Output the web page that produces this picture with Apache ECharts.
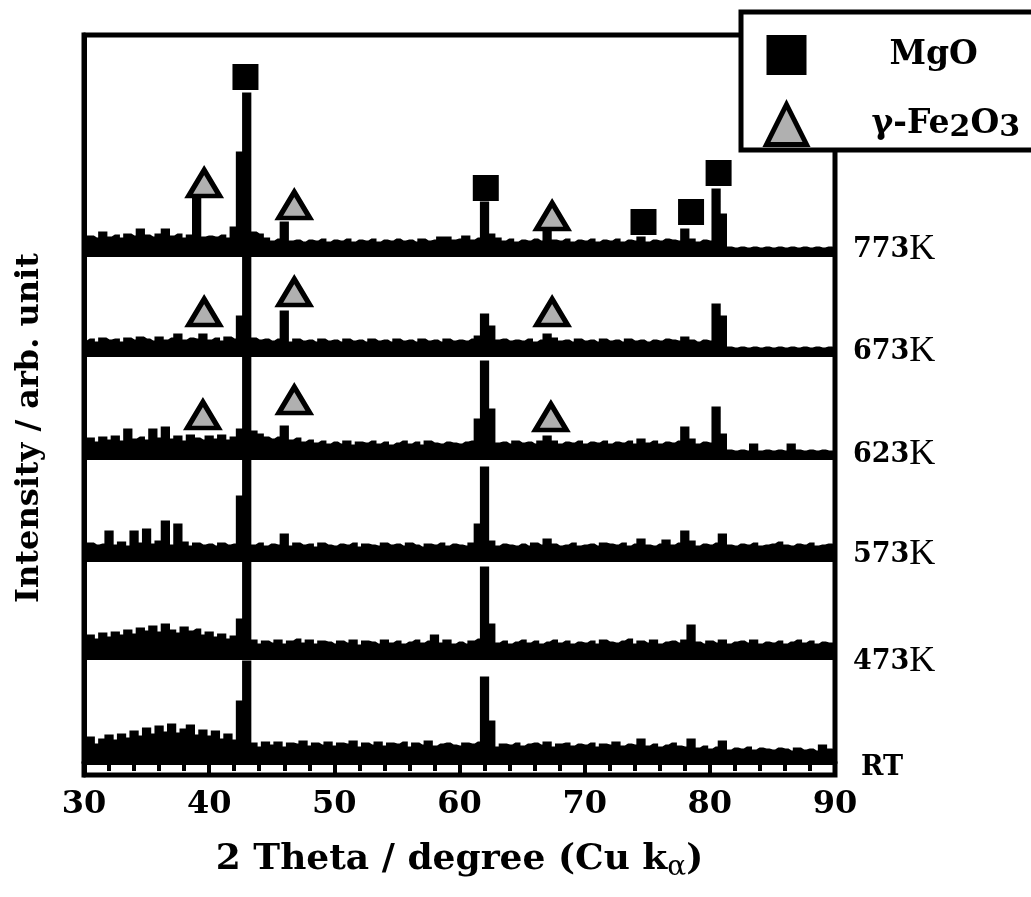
<!DOCTYPE html>
<html>
<head>
<meta charset="utf-8">
<script src="https://cdn.jsdelivr.net/npm/echarts@6/dist/echarts.min.js"></script>
<style>
  html, body { margin: 0; padding: 0; background: #fff; }
  #chart { width: 1031px; height: 897px; }
</style>
</head>
<body>
<div id="chart"></div>
<script>
// XRD patterns of the MgO / iron-oxide samples after annealing.
// Each pattern is sampled on a 2θ grid from 30.0° to 90.0° in 0.5° steps (121 points),
// intensities in arbitrary units above the pattern's own baseline.
const thetaStart = 30;
const thetaStep = 0.5;

const sampleNames = ['RT', '473K', '573K', '623K', '673K', '773K'];
// vertical stacking offset of each pattern (arb. unit)
const sampleOffsets = [0, 102, 200, 302, 405, 505];

const intensityRT = [
  20, 24, 17, 22, 26, 21, 27, 23, 30, 25,
  33, 27, 35, 29, 37, 28, 32, 36, 26, 31,
  25, 30, 22, 27, 21, 60, 100, 18, 14, 19,
  16, 19, 14, 18, 17, 20, 15, 18, 16, 19,
  15, 18, 17, 20, 14, 18, 16, 19, 15, 18,
  17, 19, 14, 18, 16, 20, 15, 17, 18, 16,
  15, 18, 17, 19, 84, 40, 14, 17, 16, 18,
  15, 17, 18, 16, 19, 14, 17, 18, 15, 17,
  16, 18, 14, 17, 16, 19, 15, 17, 16, 22,
  15, 17, 14, 16, 18, 15, 14, 22, 13, 15,
  12, 14, 20, 11, 13, 12, 14, 11, 13, 12,
  11, 13, 12, 10, 13, 11, 12, 10, 16, 12,
  11
];

const intensity473K = [
  19, 24, 20, 26, 22, 27, 24, 29, 25, 31,
  28, 33, 27, 35, 29, 26, 32, 28, 30, 24,
  27, 22, 25, 20, 23, 40, 105, 19, 15, 18,
  16, 19, 15, 18, 20, 16, 19, 15, 18, 17,
  15, 18, 16, 19, 14, 18, 17, 15, 19, 16,
  18, 15, 17, 19, 16, 18, 24, 16, 19, 15,
  17, 15, 18, 20, 92, 35, 16, 18, 15, 17,
  19, 16, 18, 15, 17, 19, 16, 18, 15, 17,
  16, 18, 15, 19, 17, 16, 18, 20, 15, 18,
  16, 19, 15, 17, 18, 16, 19, 34, 17, 15,
  18, 16, 19, 15, 17, 18, 16, 19, 15, 17,
  16, 18, 15, 17, 19, 16, 18, 15, 17, 16,
  16
];

const intensity573K = [
  15, 18, 16, 17, 30, 16, 19, 15, 30, 18,
  32, 17, 20, 40, 16, 37, 19, 15, 18, 16,
  17, 15, 18, 16, 17, 65, 105, 16, 18, 15,
  17, 16, 27, 15, 18, 16, 17, 14, 18, 16,
  15, 17, 16, 18, 14, 17, 16, 15, 18, 16,
  17, 15, 18, 16, 14, 17, 16, 18, 15, 17,
  16, 15, 18, 37, 94, 20, 15, 17, 16, 15,
  17, 15, 18, 16, 22, 17, 15, 16, 18, 15,
  16, 17, 15, 18, 17, 16, 18, 15, 17, 22,
  16, 15, 17, 21, 16, 18, 30, 20, 15, 17,
  16, 18, 27, 16, 15, 17, 16, 18, 15, 16,
  17, 19, 16, 15, 17, 16, 18, 15, 16, 17,
  16
];

const intensity623K = [
  18, 21, 17, 22, 19, 23, 18, 30, 20, 22,
  19, 30, 21, 32, 20, 23, 18, 24, 21, 19,
  23, 20, 24, 19, 22, 30, 110, 28, 25, 22,
  20, 22, 33, 19, 21, 17, 19, 16, 18, 15,
  17, 15, 18, 14, 17, 16, 18, 15, 17, 14,
  16, 18, 15, 17, 14, 18, 16, 15, 17, 16,
  15, 17, 18, 40, 98, 50, 16, 17, 15, 18,
  16, 17, 15, 18, 23, 18, 15, 17, 16, 18,
  15, 17, 16, 18, 15, 17, 16, 18, 15, 20,
  16, 18, 15, 17, 16, 18, 32, 20, 15, 17,
  16, 52, 25, 9, 8, 9, 8, 15, 8, 9,
  8, 9, 8, 15, 9, 8, 9, 8, 9, 8,
  8
];

const intensity673K = [
  15, 17, 14, 18, 16, 17, 14, 18, 16, 19,
  17, 15, 19, 16, 18, 22, 16, 18, 17, 22,
  16, 18, 15, 19, 17, 40, 110, 18, 16, 17,
  15, 17, 45, 14, 17, 15, 16, 14, 17, 15,
  16, 14, 17, 15, 16, 14, 17, 15, 16, 14,
  17, 15, 16, 14, 17, 15, 16, 14, 17, 15,
  16, 15, 17, 20, 42, 30, 16, 17, 15, 16,
  15, 17, 14, 16, 22, 18, 15, 16, 14, 17,
  15, 16, 14, 17, 15, 16, 14, 17, 15, 16,
  14, 16, 15, 17, 16, 15, 19, 16, 14, 16,
  15, 52, 40, 9, 8, 9, 8, 9, 8, 9,
  8, 9, 8, 9, 8, 9, 8, 9, 8, 9,
  8
];

const intensity773K = [
  17, 20, 18, 24, 19, 21, 18, 22, 20, 27,
  21, 19, 22, 27, 20, 22, 18, 21, 59, 19,
  20, 19, 21, 18, 29, 104, 163, 24, 22, 18,
  15, 17, 34, 15, 16, 14, 16, 15, 17, 14,
  16, 15, 17, 14, 16, 15, 17, 14, 16, 15,
  17, 15, 16, 14, 17, 15, 16, 19, 19, 16,
  17, 20, 16, 18, 54, 22, 18, 15, 17, 14,
  16, 15, 17, 15, 25, 16, 15, 17, 14, 16,
  15, 17, 14, 16, 15, 17, 14, 16, 15, 19,
  14, 16, 15, 17, 16, 15, 27, 17, 14, 16,
  15, 67, 42, 9, 8, 9, 8, 9, 8, 9,
  8, 9, 8, 9, 8, 9, 8, 9, 8, 9,
  8
];

const sampleIntensities = [intensityRT, intensity473K, intensity573K, intensity623K, intensity673K, intensity773K];

// phase markers: [2θ, sample index, level above that sample's baseline]
const mgoMarks = [
  [42.9, 5, 180], [62.1, 5, 69], [74.7, 5, 35], [78.5, 5, 45], [80.7, 5, 84]
];
const fe2o3Marks = [
  [39.6, 5, 74], [46.8, 5, 52], [67.4, 5, 41],
  [39.6, 4, 45], [46.8, 4, 65], [67.4, 4, 45],
  [39.5, 3, 45], [46.8, 3, 60], [67.3, 3, 43]
];

const thetaMin = 30, thetaMax = 90, thetaTickStep = 10;

// ---------------------------------------------------------------------------
const SERIF = "'DejaVu Serif', 'Liberation Serif', serif";
const TIMES = "'Liberation Serif', 'DejaVu Serif', serif";

// small nudges for the sample names at the right end of each pattern
const endLabelShift = [[8, 17], [0, 18], [0, 9], [0, 3], [0, 3], [0, 1]];

function sampleLabel(name) {
  if (name === 'RT') return '{n|RT}';
  return '{n|' + name.replace('K', '') + '}{k|K}';
}

function thetaAt(k) { return thetaStart + k * thetaStep; }

// each pattern is a step trace filled down to its own baseline
const lineSeries = sampleNames.map((name, i) => ({
  name: name,
  type: 'line',
  step: 'middle',
  showSymbol: false,
  symbol: 'none',
  silent: true,
  z: 2,
  lineStyle: { color: '#000', width: 3, join: 'miter', cap: 'butt' },
  areaStyle: { color: '#000', opacity: 1, origin: sampleOffsets[i] },
  data: sampleIntensities[i].map((v, k) => [thetaAt(k), v + sampleOffsets[i]]),
  endLabel: {
    show: true,
    distance: 18,
    offset: endLabelShift[i],
    formatter: () => sampleLabel(name),
    rich: {
      n: { fontFamily: SERIF, fontWeight: 'bold', fontSize: 27, color: '#000' },
      k: { fontFamily: TIMES, fontWeight: 'normal', fontSize: 36, color: '#000' }
    }
  }
}));

const markerSeries = [
  {
    name: 'MgO',
    type: 'scatter',
    symbol: 'rect',
    symbolSize: 26,
    z: 3,
    silent: true,
    itemStyle: { color: '#000', opacity: 1 },
    data: mgoMarks.map(([t, s, h]) => [t, sampleOffsets[s] + h])
  },
  {
    name: 'γ-Fe2O3',
    type: 'scatter',
    symbol: 'triangle',
    symbolSize: [31, 26],
    z: 3,
    silent: true,
    itemStyle: { color: '#b0b0b0', borderColor: '#000', borderWidth: 5, opacity: 1 },
    data: fe2o3Marks.map(([t, s, h]) => [t, sampleOffsets[s] + h])
  }
];

const chart = echarts.init(document.getElementById('chart'), null, { renderer: 'canvas' });

chart.setOption({
  animation: false,
  backgroundColor: '#fff',
  grid: {
    left: 84, right: 196, top: 35, bottom: 122,
    show: true, borderColor: '#000', borderWidth: 5, backgroundColor: 'transparent'
  },
  xAxis: {
    type: 'value',
    min: thetaMin,
    max: thetaMax,
    interval: thetaTickStep,
    axisLine: { show: true, lineStyle: { color: '#000', width: 5 } },
    axisTick: { show: true, inside: false, length: 14, lineStyle: { color: '#000', width: 4 } },
    minorTick: { show: true, splitNumber: 5, length: 9, lineStyle: { color: '#000', width: 4 } },
    splitLine: { show: false },
    minorSplitLine: { show: false },
    axisLabel: { color: '#000', fontFamily: SERIF, fontWeight: 'bold', fontSize: 32, margin: 14 },
    name: '{t|2 Theta / degree (Cu k}{a|α}{t|)}',
    nameLocation: 'middle',
    nameGap: 63,
    nameTextStyle: {
      rich: {
        t: { fontFamily: SERIF, fontWeight: 'bold', fontSize: 36, color: '#000' },
        a: { fontFamily: SERIF, fontWeight: 'normal', fontSize: 28, color: '#000', padding: [16, 0, 0, 0] }
      }
    }
  },
  yAxis: {
    type: 'value',
    min: -13,
    max: 727,
    axisLine: { show: true, lineStyle: { color: '#000', width: 5 } },
    axisTick: { show: false },
    axisLabel: { show: false },
    splitLine: { show: false },
    name: 'Intensity / arb. unit',
    nameLocation: 'middle',
    nameGap: 38,
    nameTextStyle: {
      fontFamily: SERIF, fontWeight: 'bold', fontSize: 32, color: '#000',
      padding: [0, 46, 0, 0]
    }
  },
  legend: {
    orient: 'vertical',
    left: 764,
    top: 35,
    padding: 0,
    itemGap: 27,
    itemWidth: 40,
    itemHeight: 40,
    selectedMode: false,
    z: 6,
    data: [
      { name: 'MgO', icon: 'rect', itemStyle: { color: '#000', borderWidth: 0, opacity: 1 } },
      { name: 'γ-Fe2O3', icon: 'triangle', itemStyle: { color: '#b0b0b0', borderColor: '#000', borderWidth: 5, opacity: 1 } }
    ],
    formatter: name => name === 'MgO'
      ? '{g1| }{t|MgO}'
      : '{g2| }{t|γ-Fe}{s|2}{t|O}{s|3}',
    textStyle: {
      color: '#000',
      rich: {
        g1: { width: 78 },
        g2: { width: 60 },
        t: { fontFamily: SERIF, fontWeight: 'bold', fontSize: 33, color: '#000' },
        s: { fontFamily: SERIF, fontWeight: 'bold', fontSize: 30, color: '#000', padding: [8, 0, 0, 0] }
      }
    }
  },
  graphic: [
    {
      type: 'rect',
      z: 5,
      shape: { x: 741, y: 12, width: 330, height: 138 },
      style: { fill: '#fff', stroke: '#000', lineWidth: 5 }
    }
  ],
  series: [...lineSeries, ...markerSeries]
});
</script>
</body>
</html>
